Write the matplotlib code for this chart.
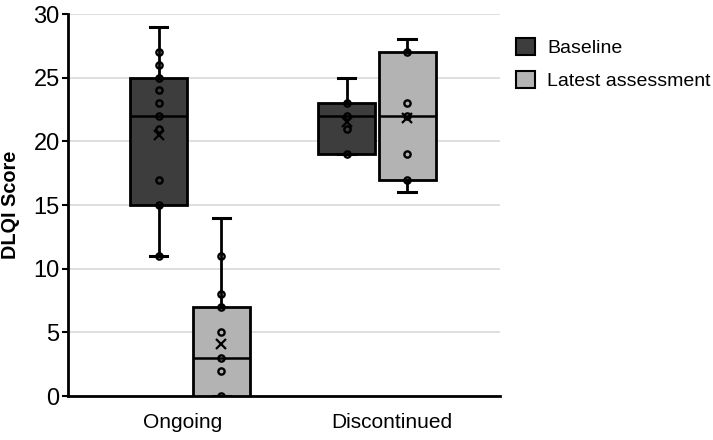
import matplotlib
matplotlib.use("Agg")
import matplotlib.pyplot as plt
from matplotlib.patches import Patch

plt.rcParams['font.family'] = ['Liberation Sans', 'DejaVu Sans']

categories = ["Ongoing", "Discontinued"]
series = ["Baseline", "Latest assessment"]
colors = ["#3d3d3d", "#b3b3b3"]

# box statistics: (group, series)
medians = [22, 3, 22, 22]
q1s = [15, 0, 19, 17]
q3s = [25, 7, 23, 27]
whislo = [11, 0, 19, 16]
whishi = [29, 14, 25, 28]
means = [20.5, 4.1, 21.5, 21.8]
points = [
    [11, 15, 17, 21, 22, 23, 24, 25, 26, 27],
    [0, 2, 3, 5, 7, 8, 11],
    [19, 21, 22, 23],
    [17, 19, 22, 23, 27],
]
box_series = [0, 1, 0, 1]
# box centres on the category axis (categories centred at 0.5 and 1.5)
positions = [0.42, 0.71, 1.29, 1.57]
tick_pos = [0.53, 1.5]

fig = plt.figure(figsize=(7.13, 4.40), dpi=100)
ax = fig.add_axes([68/713, 1-396/440, 432/713, 382/440])

stats = []
for i in range(4):
    stats.append(dict(med=medians[i], q1=q1s[i], q3=q3s[i], whislo=whislo[i],
                      whishi=whishi[i], mean=means[i], fliers=[]))

for i in range(4):
    ax.bxp([stats[i]], positions=[positions[i]], widths=0.265, patch_artist=True,
           showmeans=True, meanline=False, showfliers=False,
           boxprops=dict(facecolor=colors[box_series[i]], edgecolor='black', linewidth=2),
           medianprops=dict(color='black', linewidth=1.8),
           whiskerprops=dict(color='black', linewidth=2),
           capprops=dict(color='black', linewidth=2.2),
           capwidths=0.08,
           meanprops=dict(marker='x', markeredgecolor='black', markersize=7, markeredgewidth=1.6),
           zorder=3)
    ax.plot([positions[i]] * len(points[i]), points[i], linestyle='none', marker='o',
            markersize=4.5, markerfacecolor='none', markeredgecolor='black',
            markeredgewidth=1.7, zorder=4)

ax.set_xlim(0, 2)
ax.set_ylim(0, 30)
ax.set_yticks(range(0, 31, 5))
ax.set_xticks(tick_pos)
ax.set_xticklabels(categories, fontsize=15)
ax.tick_params(axis='x', length=0, pad=12)
ax.tick_params(axis='y', labelsize=17, length=4, width=1.5, pad=2)
ax.yaxis.grid(True, color='#d9d9d9', linewidth=1.2)
ax.set_axisbelow(True)
for s in ['top', 'right']:
    ax.spines[s].set_visible(False)
for s in ['left', 'bottom']:
    ax.spines[s].set_linewidth(2)
ax.set_ylabel("DLQI Score", fontsize=14.3, fontweight='bold')
ax.yaxis.set_label_coords(-(68 - 20) / 432, 0.5)

handles = [Patch(facecolor=colors[k], edgecolor='black', linewidth=1.5, label=series[k]) for k in range(2)]
fig.legend(handles=handles, loc='upper left', bbox_to_anchor=(508/713, 1-30/440),
           frameon=False, fontsize=14, handlelength=1.0, handleheight=1.0,
           handletextpad=0.6, labelspacing=0.7, borderaxespad=0)

fig.savefig("out.png", dpi=100)
